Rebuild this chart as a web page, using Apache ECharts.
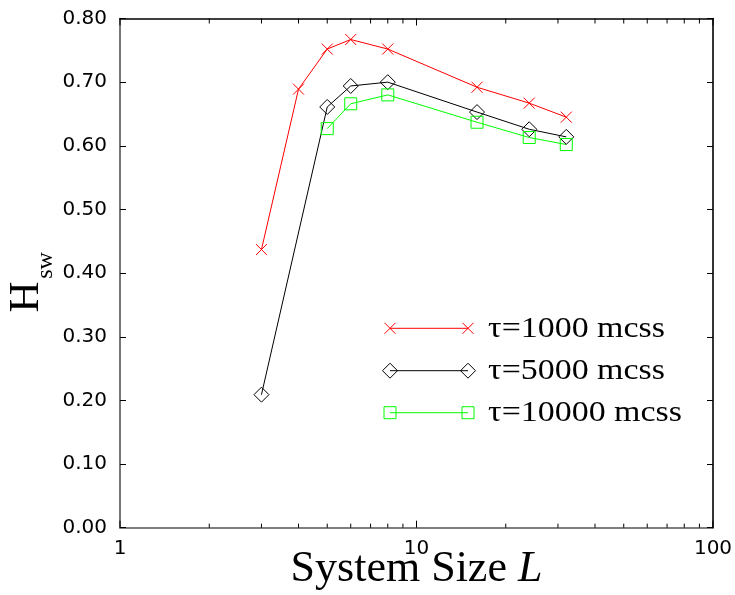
<!DOCTYPE html>
<html>
<head>
<meta charset="utf-8">
<script src="https://cdn.jsdelivr.net/npm/echarts@6/dist/echarts.min.js"></script>
<style>
  html, body { margin: 0; padding: 0; background: #fff; }
  #chart { width: 735px; height: 595px; }
</style>
</head>
<body>
<div id="chart"></div>
<script>
// Switching entropy H_sw versus system size L for three waiting times
const sizes1000 = [3, 4, 5, 6, 8, 16, 24, 32];
const hsw1000 = [0.437, 0.689, 0.752, 0.767, 0.752, 0.692, 0.667, 0.645];

const sizes5000 = [3, 5, 6, 8, 16, 24, 32];
const hsw5000 = [0.209, 0.661, 0.694, 0.700, 0.653, 0.626, 0.614];

const sizes10000 = [5, 6, 8, 16, 24, 32];
const hsw10000 = [0.627, 0.666, 0.680, 0.637, 0.613, 0.602];

const seriesNames = ['\u03c4=1000 mcss', '\u03c4=5000 mcss', '\u03c4=10000 mcss'];
const xMajorTicks = [1, 10, 100];
const xMinorTicks = [2, 3, 4, 5, 6, 7, 8, 9, 20, 30, 40, 50, 60, 70, 80, 90];

const RED = '#ff0000', BLACK = '#000000', GREEN = '#00ff00';
const SANS = '"DejaVu Sans", "Liberation Sans", Arial, sans-serif';
const SERIF = '"Liberation Serif", "Times New Roman", serif';

const chart = echarts.init(document.getElementById('chart'), null, { renderer: 'canvas' });

function zip(xs, ys) { return xs.map((x, i) => [x, ys[i]]); }

const GRID = { left: 120, right: 22, top: 18.5, bottom: 67.3 };
const Y_MIN = 0, Y_MAX = 0.8;

function logAxis(pos, lineColor, labels) {
  return {
    type: 'log', logBase: 10, min: 1, max: 100, position: pos, gridIndex: 0,
    axisLine: { show: true, onZero: false, lineStyle: { color: lineColor, width: 1.6 } },
    axisTick: { show: false },
    axisLabel: labels ? {
      show: true, margin: 11, fontFamily: SANS, fontSize: 20, color: '#000',
      formatter: v => String(Math.round(v))
    } : { show: false },
    splitLine: { show: false }
  };
}

function valAxis(pos, showLabels, lineColor) {
  return {
    type: 'value', min: Y_MIN, max: Y_MAX, interval: 0.1, position: pos, gridIndex: 0,
    axisLine: { show: true, onZero: false, lineStyle: { color: lineColor, width: 1.6 } },
    axisTick: { show: true, inside: true, length: 6, lineStyle: { color: '#000', width: 1 } },
    axisLabel: showLabels ? {
      show: true, margin: 13, fontFamily: SANS, fontSize: 20, color: '#000',
      formatter: v => v.toFixed(2)
    } : { show: false },
    splitLine: { show: false }
  };
}

const xAxes = [
  Object.assign(logAxis('bottom', '#555', true), {
    name: '{n|System Size }{i|L}', nameLocation: 'middle', nameGap: 20, nameMoveOverlap: false,
    nameTextStyle: {
      rich: {
        n: { fontFamily: SERIF, fontSize: 44, color: '#000' },
        i: { fontFamily: SERIF, fontSize: 44, fontStyle: 'italic', color: '#000' }
      }
    }
  }),
  logAxis('top', '#000', false)
];

const yAxes = [valAxis('left', true, '#555'), valAxis('right', false, '#000')];

const CROSS = 'path://M0,0L10,10M10,0L0,10';

function lineSeries(name, data, color, symbol, size) {
  return {
    name: name, type: 'line', xAxisIndex: 0, yAxisIndex: 0, data: data,
    symbol: symbol, symbolSize: size, showSymbol: true, showAllSymbol: true,
    lineStyle: { color: color, width: 1 },
    itemStyle: { color: 'rgba(0,0,0,0)', borderColor: color, borderWidth: 1 },
    emphasis: { disabled: true },
    z: 3
  };
}

// Ticks of the log axis, placed through the axis scale and pointing
// inward from the bottom and top frame lines.
function logTickSeries(values, bottomLen, topLen) {
  return {
    type: 'custom', xAxisIndex: 0, yAxisIndex: 0, silent: true, clip: false, z: 4,
    data: values.map(v => [v]),
    encode: { x: 0 },
    renderItem: function (params, api) {
      const v = api.value(0);
      const b = api.coord([v, Y_MIN]);
      const t = api.coord([v, Y_MAX]);
      const st = { stroke: '#000', lineWidth: 1 };
      return {
        type: 'group',
        children: [
          { type: 'line', shape: { x1: b[0], y1: b[1], x2: b[0], y2: b[1] - bottomLen }, style: st },
          { type: 'line', shape: { x1: t[0], y1: t[1], x2: t[0], y2: t[1] + topLen }, style: st }
        ]
      };
    }
  };
}

// Legend: sample line with a marker at each end, then the label
const legendRows = [
  { name: seriesNames[0], color: RED, mark: 'cross', y: 328.3 },
  { name: seriesNames[1], color: BLACK, mark: 'diamond', y: 370.7 },
  { name: seriesNames[2], color: GREEN, mark: 'square', y: 412.7 }
];
const LX0 = 390, LX1 = 468, TX = 488;

function marker(kind, cx, cy, color) {
  const st = { stroke: color, lineWidth: 1, fill: null };
  if (kind === 'cross') {
    const h = 5.5;
    return [
      { type: 'line', shape: { x1: cx - h, y1: cy - h, x2: cx + h, y2: cy + h }, style: st, silent: true },
      { type: 'line', shape: { x1: cx + h, y1: cy - h, x2: cx - h, y2: cy + h }, style: st, silent: true }
    ];
  }
  if (kind === 'diamond') {
    const h = 7.5;
    return [{ type: 'polygon', shape: { points: [[cx, cy - h], [cx + h, cy], [cx, cy + h], [cx - h, cy]] },
      style: st, silent: true }];
  }
  const h = 6;
  return [{ type: 'rect', shape: { x: cx - h, y: cy - h, width: 2 * h, height: 2 * h }, style: st, silent: true }];
}

const graphics = [];
legendRows.forEach(r => {
  graphics.push({ type: 'line', shape: { x1: LX0, y1: r.y, x2: LX1, y2: r.y },
    style: { stroke: r.color, lineWidth: 1 }, silent: true });
  graphics.push(...marker(r.mark, LX0, r.y, r.color));
  graphics.push(...marker(r.mark, LX1, r.y, r.color));
  graphics.push({ type: 'text', x: TX, y: r.y + 1, scaleX: 1.17, scaleY: 1, silent: true,
    style: { text: r.name, x: 0, y: 0, font: '29px ' + SERIF, fill: '#000',
      textAlign: 'left', textVerticalAlign: 'middle' } });
});

// Y axis title: H with subscript "sw", reading bottom to top
graphics.push({ type: 'text', x: 27, y: 297, rotation: Math.PI / 2, silent: true,
  style: { text: 'H', x: 0, y: 0, font: '43px ' + SERIF, fill: '#000',
    textAlign: 'center', textVerticalAlign: 'middle' } });
graphics.push({ type: 'text', x: 45.5, y: 265.5, rotation: Math.PI / 2, silent: true,
  style: { text: 'sw', x: 0, y: 0, font: '24px ' + SERIF, fill: '#000',
    textAlign: 'center', textVerticalAlign: 'middle' } });

chart.setOption({
  animation: false,
  backgroundColor: '#ffffff',
  grid: Object.assign({ containLabel: false, outerBoundsMode: 'none' }, GRID),
  xAxis: xAxes,
  yAxis: yAxes,
  series: [
    lineSeries(seriesNames[0], zip(sizes1000, hsw1000), RED, CROSS, 11),
    lineSeries(seriesNames[1], zip(sizes5000, hsw5000), BLACK, 'diamond', 15),
    lineSeries(seriesNames[2], zip(sizes10000, hsw10000), GREEN, 'rect', 12),
    logTickSeries(xMajorTicks, 7, 7),
    logTickSeries(xMinorTicks, 4, 5)
  ],
  graphic: graphics
});
</script>
</body>
</html>
